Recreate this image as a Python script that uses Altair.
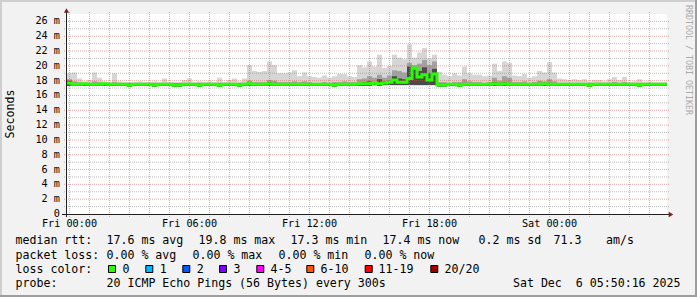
import altair as alt
import pandas as pd

# ---------------- data ----------------
# one column every 15 minutes; hour 0 = Fri 00:00
BIN_HOURS = 0.25
median_ms = [
    17.7, 17.5, 17.5, 17.6, 17.5, 17.5, 17.5, 17.6, 17.5, 17.5,
    17.5, 17.5, 17.4, 17.5, 17.5, 17.5, 17.5, 17.4, 17.5, 17.5,
    17.5, 17.4, 17.4, 17.5, 17.5, 17.5, 17.4, 17.5, 17.5, 17.5,
    17.4, 17.5, 17.5, 17.5, 17.4, 17.5, 17.6, 17.5, 17.5, 17.5,
    17.6, 17.5, 17.5, 17.5, 17.5, 17.5, 17.5, 17.5, 17.5, 17.5,
    17.5, 17.5, 17.5, 17.4, 17.5, 17.5, 17.5, 17.5, 17.6, 17.6,
    17.6, 17.7, 17.6, 17.7, 17.8, 18.1, 17.8, 17.8, 18.3, 19.7,
    18.5, 18.8, 18.1, 18.9, 17.4, 17.4, 17.5, 17.5, 17.4, 17.5,
    17.5, 17.5, 17.5, 17.5, 17.5, 17.6, 17.5, 17.6, 17.5, 17.5,
    17.5, 17.5, 17.5, 17.5, 17.5, 17.6, 17.5, 17.5, 17.5, 17.5,
    17.5, 17.5, 17.5, 17.5, 17.4, 17.5, 17.5, 17.5, 17.5, 17.5,
    17.5, 17.5, 17.5, 17.5, 17.4, 17.5, 17.5, 17.5, 17.5, 17.5]
smoke_max_ms = [
    19.0, 19.1, 18.3, 17.9, 18.1, 19.1, 18.4, 17.9, 17.8, 19.0,
    17.9, 17.8, 17.8, 17.8, 17.9, 17.8, 17.8, 17.9, 17.8, 18.3,
    17.8, 17.8, 17.8, 18.1, 18.3, 17.8, 17.9, 17.8, 17.9, 17.8,
    18.4, 17.8, 18.1, 18.3, 17.9, 18.3, 20.1, 19.3, 19.2, 19.3,
    20.6, 20.1, 19.0, 19.0, 19.1, 19.4, 18.6, 19.1, 18.6, 18.5,
    18.4, 18.7, 18.4, 18.6, 18.9, 18.9, 18.6, 18.5, 20.1, 19.8,
    20.6, 19.9, 21.5, 19.7, 20.0, 21.5, 21.1, 20.9, 22.9, 21.1,
    21.8, 22.4, 21.0, 21.5, 19.2, 18.8, 18.6, 19.0, 18.7, 19.9,
    19.0, 18.8, 18.8, 18.6, 18.7, 20.3, 19.3, 20.6, 20.4, 18.7,
    18.6, 18.9, 18.4, 18.6, 19.3, 19.1, 20.5, 19.1, 18.3, 18.2,
    18.1, 18.2, 18.1, 18.2, 17.9, 18.1, 18.1, 17.9, 18.2, 18.5,
    18.1, 18.5, 17.8, 17.9, 18.2, 17.8, 17.9, 17.8, 17.8, 17.8]
smoke_mid_ms = [
    18.2, 17.9, 17.8, 17.7, 17.7, 17.9, 17.8, 17.7, 17.7, 17.8,
    17.7, 17.7, 17.7, 17.7, 17.7, 17.7, 17.7, 17.7, 17.7, 17.7,
    17.7, 17.7, 17.7, 17.7, 17.7, 17.7, 17.7, 17.7, 17.7, 17.7,
    17.7, 17.7, 17.7, 17.7, 17.7, 17.7, 18.0, 17.8, 17.8, 17.8,
    18.1, 18.0, 17.8, 17.8, 17.8, 17.9, 17.8, 17.9, 17.8, 17.7,
    17.7, 17.8, 17.7, 17.8, 17.8, 17.9, 17.8, 17.8, 18.2, 18.3,
    18.6, 18.4, 18.8, 18.4, 18.7, 19.4, 19.3, 19.1, 20.4, 20.1,
    20.3, 20.8, 20.1, 20.6, 17.8, 17.8, 17.7, 17.8, 17.8, 18.2,
    17.9, 17.8, 17.8, 17.7, 17.8, 18.4, 18.0, 18.6, 18.4, 17.8,
    17.8, 17.9, 17.7, 17.8, 18.0, 17.9, 18.2, 17.9, 17.7, 17.7,
    17.7, 17.7, 17.7, 17.7, 17.7, 17.7, 17.7, 17.7, 17.7, 17.8,
    17.7, 17.8, 17.7, 17.7, 17.7, 17.7, 17.7, 17.7, 17.7, 17.7]
smoke_core_ms = [
    18.0, 17.7, 17.6, 17.6, 17.6, 17.6, 17.6, 17.6, 17.6, 17.6,
    17.6, 17.6, 17.6, 17.6, 17.6, 17.6, 17.6, 17.6, 17.6, 17.6,
    17.6, 17.6, 17.6, 17.6, 17.6, 17.6, 17.6, 17.6, 17.6, 17.6,
    17.6, 17.6, 17.6, 17.6, 17.6, 17.6, 17.7, 17.6, 17.6, 17.6,
    17.8, 17.7, 17.6, 17.6, 17.6, 17.6, 17.6, 17.6, 17.6, 17.6,
    17.6, 17.6, 17.6, 17.6, 17.6, 17.6, 17.6, 17.6, 17.7, 17.8,
    17.9, 17.8, 18.2, 17.9, 18.0, 18.6, 18.3, 18.2, 19.9, 19.5,
    19.3, 19.8, 19.0, 19.6, 17.6, 17.6, 17.6, 17.6, 17.6, 17.7,
    17.6, 17.6, 17.6, 17.6, 17.6, 17.8, 17.7, 17.8, 17.7, 17.6,
    17.6, 17.6, 17.6, 17.6, 17.7, 17.6, 17.7, 17.6, 17.6, 17.6,
    17.6, 17.6, 17.6, 17.6, 17.6, 17.6, 17.6, 17.6, 17.6, 17.6,
    17.6, 17.6, 17.6, 17.6, 17.6, 17.6, 17.6, 17.6, 17.6, 17.6]
smoke_min_ms = [
    17.3, 17.3, 17.3, 17.3, 17.3, 17.3, 17.3, 17.3, 17.3, 17.3,
    17.3, 17.3, 17.2, 17.3, 17.3, 17.3, 17.3, 17.2, 17.3, 17.3,
    17.3, 17.2, 17.2, 17.3, 17.3, 17.3, 17.2, 17.3, 17.3, 17.3,
    17.2, 17.3, 17.3, 17.3, 17.2, 17.3, 17.3, 17.3, 17.3, 17.3,
    17.3, 17.3, 17.3, 17.3, 17.3, 17.3, 17.3, 17.3, 17.3, 17.3,
    17.3, 17.3, 17.3, 17.2, 17.3, 17.3, 17.3, 17.3, 17.3, 17.3,
    17.3, 17.4, 17.3, 17.4, 17.4, 17.4, 17.4, 17.4, 17.4, 17.4,
    17.4, 17.4, 17.4, 17.4, 17.2, 17.2, 17.3, 17.3, 17.2, 17.3,
    17.3, 17.3, 17.3, 17.3, 17.3, 17.3, 17.3, 17.3, 17.3, 17.3,
    17.3, 17.3, 17.3, 17.3, 17.3, 17.3, 17.3, 17.3, 17.3, 17.3,
    17.3, 17.3, 17.3, 17.3, 17.2, 17.3, 17.3, 17.3, 17.3, 17.3,
    17.3, 17.3, 17.3, 17.3, 17.2, 17.3, 17.3, 17.3, 17.3, 17.3]

x_label_hours = [0, 6, 12, 18, 24]
x_labels = ["Fri 00:00", "Fri 06:00", "Fri 12:00", "Fri 18:00", "Sat 00:00"]
y_label_ms = [0, 2, 4, 6, 8, 10, 12, 14, 16, 18, 20, 22, 24, 26]
y_labels = ["0  ", "2 m", "4 m", "6 m", "8 m", "10 m", "12 m", "14 m", "16 m",
            "18 m", "20 m", "22 m", "24 m", "26 m"]
grid_major_hours = [3, 6, 9, 12, 15, 18, 21, 24, 27]
grid_minor_hours = [0, 1, 2, 4, 5, 7, 8, 10, 11, 13, 14, 16, 17, 19, 20,
                    22, 23, 25, 26, 28, 29]
grid_major_ms = [2, 4, 6, 8, 10, 12, 14, 16, 18, 20, 22, 24, 26]
grid_minor_ms = [1, 3, 5, 7, 9, 11, 13, 15, 17, 19, 21, 23, 25]

stats_rtt = ["median rtt:", "17.6 ms avg", "19.8 ms max", "17.3 ms min",
             "17.4 ms now", "0.2 ms sd", "71.3", "am/s"]
stats_loss = ["packet loss:", "0.00 % avg", "0.00 % max", "0.00 % min",
              "0.00 % now"]
loss_title = "loss color:"
loss_labels = ["0", "1", "2", "3", "4-5", "6-10", "11-19", "20/20"]
loss_colors = ["#26ff00", "#00b8ff", "#0059ff", "#7e00ff", "#ff00ff",
               "#ff5500", "#ff0000", "#a10000"]
probe_title = "probe:"
probe_text = "20 ICMP Echo Pings (56 Bytes) every 300s"
stamp_text = "Sat Dec  6 05:50:16 2025"
y_title = "Seconds"
watermark = "RRDTOOL / TOBI OETIKER"

# ---------------- layout (pixels, relative to the plot origin) ----------------
MONO = "DejaVu Sans Mono"
NB = "\u00a0"
PL, PT = 67, 14
rtt_x = [15.5, 106.5, 198.5, 290.5, 382.5, 478.5, 553.5, 606]
loss_x = [15.5, 106.5, 192.5, 278.5, 364.5]
box_x = [112, 149.3, 186.3, 223, 260.3, 310.3, 368.7, 434.3]
box_label_x = [122.5, 159.8, 196.8, 233.5, 270.5, 320.5, 378.5, 444.5]
line_y = [241, 255.5, 269.5, 283.5]

x_scale = alt.Scale(domain=[-0.125, 29.875], nice=False, zero=False)
y_scale = alt.Scale(domain=[0, 27], nice=False, zero=False)

n = len(median_ms)
cols = pd.DataFrame({
    "x0": [i * BIN_HOURS - BIN_HOURS / 2 for i in range(n)],
    "x1": [i * BIN_HOURS + BIN_HOURS / 2 for i in range(n)],
    "lo": smoke_min_ms, "hi": smoke_max_ms, "mid": smoke_mid_ms,
    "core": smoke_core_ms,
})
med = pd.DataFrame({
    "x": list(cols["x0"]) + [cols["x1"].iloc[-1]],
    "v": median_ms + [median_ms[-1]],
})

def smoke(field, color):
    return alt.Chart(cols).mark_rect(color=color).encode(
        x=alt.X("x0:Q", scale=x_scale, axis=None), x2="x1",
        y=alt.Y("lo:Q", scale=y_scale, axis=None), y2=field)

def hgrid(vals, color, opacity):
    return alt.Chart(pd.DataFrame({"v": vals})).mark_rule(
        color=color, opacity=opacity, strokeWidth=1, strokeDash=[1, 1]
    ).encode(y=alt.Y("v:Q", scale=y_scale, axis=None),
             x=alt.value(-3), x2=alt.value(602))

def vgrid(vals, color, opacity):
    return alt.Chart(pd.DataFrame({"v": vals})).mark_rule(
        color=color, opacity=opacity, strokeWidth=1, strokeDash=[1, 1]
    ).encode(x=alt.X("v:Q", scale=x_scale, axis=None),
             y=alt.value(-2), y2=alt.value(203))

grid = [hgrid(grid_minor_ms, "#8f8f8f", 0.6), vgrid(grid_minor_hours, "#8f8f8f", 0.6),
        hgrid(grid_major_ms, "#de5050", 0.5), vgrid(grid_major_hours, "#de5050", 0.5)]

median_line = alt.Chart(med).mark_line(
    interpolate="step-after", color="#26ff00", strokeWidth=3
).encode(x=alt.X("x:Q", scale=x_scale, axis=None),
         y=alt.Y("v:Q", scale=y_scale, axis=None))

# tick labels through the scales
xlab = alt.Chart(pd.DataFrame({"h": x_label_hours, "t": x_labels})).mark_text(
    align="center", baseline="middle", font=MONO, fontSize=10.2, color="#000000"
).encode(x=alt.X("h:Q", scale=x_scale, axis=None), y=alt.value(209.5), text="t:N")
ylab = alt.Chart(pd.DataFrame({"v": y_label_ms,
                               "t": [s.replace(" ", NB) for s in y_labels]})).mark_text(
    align="right", baseline="middle", font=MONO, fontSize=10.2, color="#000000"
).encode(y=alt.Y("v:Q", scale=y_scale, axis=None), x=alt.value(-7), text="t:N")

# frame shading, axis lines, arrows
frame = pd.DataFrame({
    "x": [-PL, -PL, 628, -PL], "x2": [-PL + 2, 630, 630, 630],
    "y": [-PT, -PT, -PT, 281], "y2": [283, -PT + 2, 283, 283],
    "c": ["#cfcfcf", "#cfcfcf", "#9e9e9e", "#9e9e9e"],
})
frame_layer = alt.Chart(frame).mark_rect().encode(
    x=alt.X("x:Q", scale=None), x2="x2", y=alt.Y("y:Q", scale=None), y2="y2",
    color=alt.Color("c:N", scale=None))

axes_df = pd.DataFrame({"x": [-0.5, -5], "x2": [-0.5, 602],
                        "y": [-3, 200.5], "y2": [203, 200.5]})
axes_layer = alt.Chart(axes_df).mark_rule(color="#1f1f1f", strokeWidth=1).encode(
    x=alt.X("x:Q", scale=None), x2="x2", y=alt.Y("y:Q", scale=None), y2="y2")
arrow_up = alt.Chart(pd.DataFrame({"x": [-0.5], "y": [-3.5]})).mark_point(
    shape="triangle-up", filled=True, size=28, color="#7f1f1f", opacity=1).encode(
    x=alt.X("x:Q", scale=None), y=alt.Y("y:Q", scale=None))
arrow_right = alt.Chart(pd.DataFrame({"x": [604], "y": [200.5]})).mark_point(
    shape="triangle-right", filled=True, size=28, color="#7f1f1f", opacity=1).encode(
    x=alt.X("x:Q", scale=None), y=alt.Y("y:Q", scale=None))

# legend texts
rows = []
for t, px in zip(stats_rtt, rtt_x):
    rows.append({"t": t, "x": px - PL, "y": line_y[0] - PT})
for t, px in zip(stats_loss, loss_x):
    rows.append({"t": t, "x": px - PL, "y": line_y[1] - PT})
rows.append({"t": loss_title, "x": 15.5 - PL, "y": line_y[2] - PT})
for t, px in zip(loss_labels, box_label_x):
    rows.append({"t": t, "x": px - PL, "y": line_y[2] - PT})
rows.append({"t": probe_title, "x": 15.5 - PL, "y": line_y[3] - PT})
rows.append({"t": probe_text, "x": 106.5 - PL, "y": line_y[3] - PT})
legend_df = pd.DataFrame(rows)
legend_df["t"] = legend_df["t"].str.replace(" ", NB)
legend_text = alt.Chart(legend_df).mark_text(
    align="left", baseline="middle", font=MONO, fontSize=11.6, color="#000000"
).encode(x=alt.X("x:Q", scale=None), y=alt.Y("y:Q", scale=None), text="t:N")

stamp = alt.Chart(pd.DataFrame({"t": [stamp_text.replace(" ", NB)], "x": [680.5 - PL],
                                "y": [line_y[3] - PT]})).mark_text(
    align="right", baseline="middle", font=MONO, fontSize=11.6, color="#000000"
).encode(x=alt.X("x:Q", scale=None), y=alt.Y("y:Q", scale=None), text="t:N")

boxes = alt.Chart(pd.DataFrame({
    "x": [b - PL - 3.5 for b in box_x], "x2": [b - PL + 3.5 for b in box_x],
    "y": [line_y[2] - PT - 4 for _ in box_x], "y2": [line_y[2] - PT + 3 for _ in box_x],
    "c": loss_colors})).mark_rect(stroke="#000000", strokeWidth=1).encode(
    x=alt.X("x:Q", scale=None), x2="x2", y=alt.Y("y:Q", scale=None), y2="y2",
    color=alt.Color("c:N", scale=None))

ytitle = alt.Chart(pd.DataFrame({"t": [y_title], "x": [10.5 - PL], "y": [114 - PT]})).mark_text(
    angle=270, align="center", baseline="middle", font=MONO, fontSize=11.6,
    color="#000000").encode(x=alt.X("x:Q", scale=None), y=alt.Y("y:Q", scale=None), text="t:N")

wm = alt.Chart(pd.DataFrame({"t": [watermark.replace(" ", NB)], "x": [688 - PL],
                             "y": [60 - PT]})).mark_text(
    angle=90, align="center", baseline="middle", font=MONO, fontSize=8.3,
    color="#aaaaaa").encode(x=alt.X("x:Q", scale=None), y=alt.Y("y:Q", scale=None), text="t:N")

chart = alt.layer(
    frame_layer,
    smoke("hi", "#d6d6d6"), smoke("mid", "#a2a2a2"), smoke("core", "#4a4a4a"),
    *grid, median_line, xlab, ylab,
    axes_layer, arrow_up, arrow_right, legend_text, stamp, boxes, ytitle, wm
).properties(
    width=600, height=200,
    padding={"left": PL, "top": PT, "right": 30, "bottom": 83},
    autosize=alt.AutoSizeParams(type="none"),
    background="#f2f2f2",
).configure_view(fill="#ffffff", stroke=None)

chart.save("out.html", embed_options={"renderer": "svg", "actions": False})
